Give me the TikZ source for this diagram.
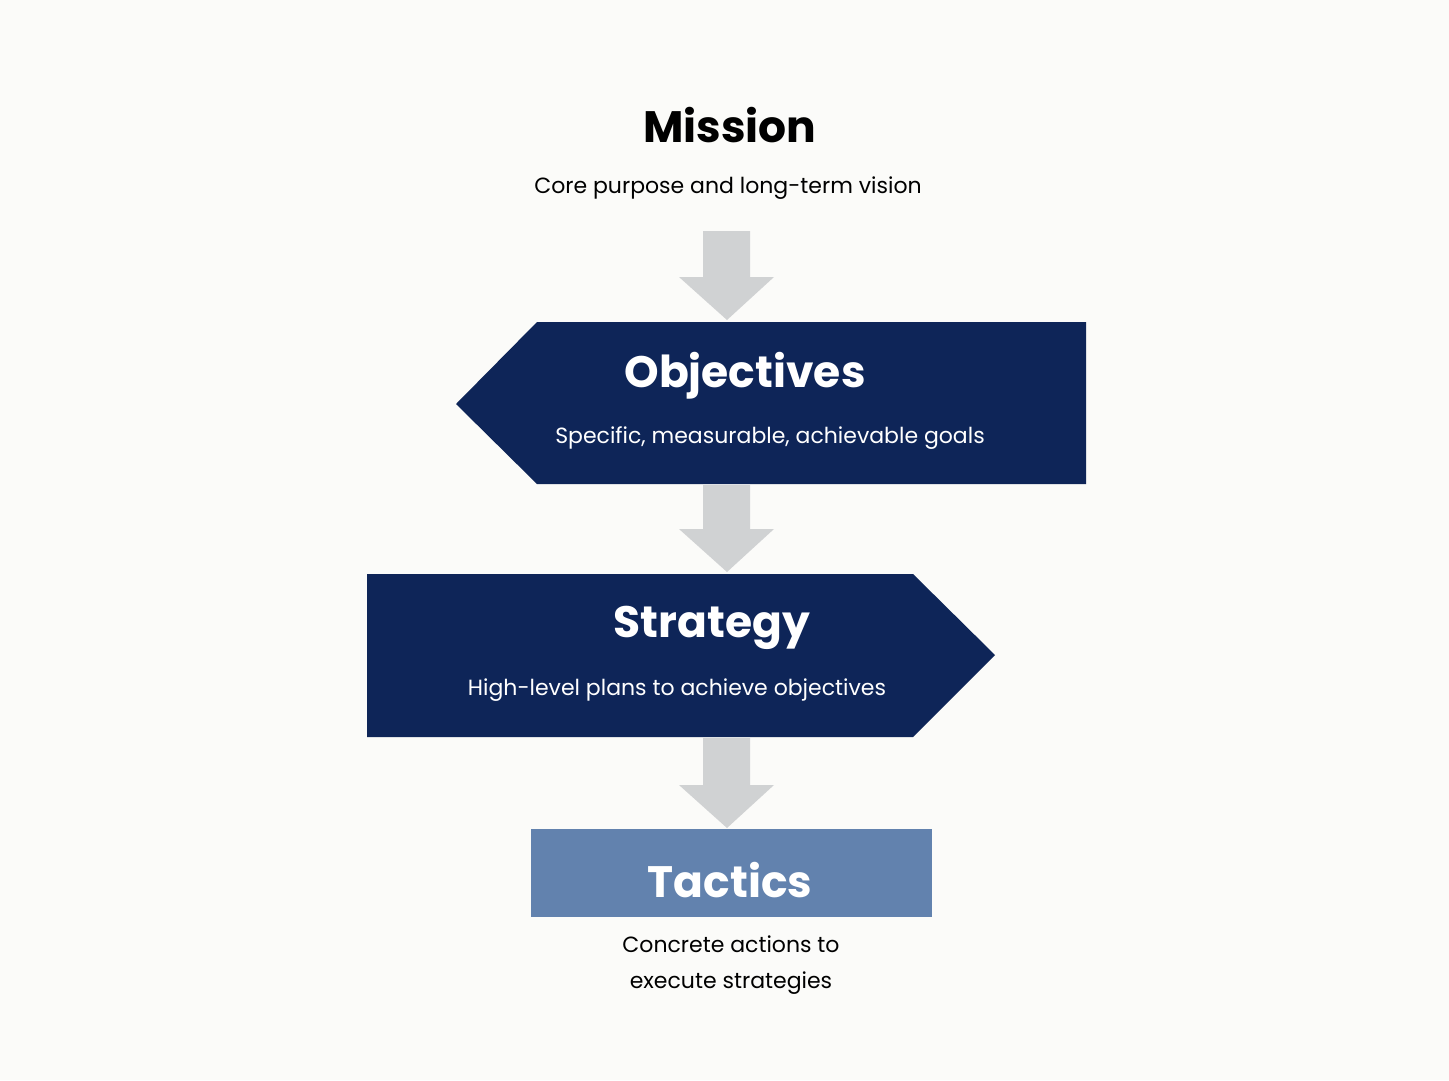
\documentclass[tikz,border=0pt]{standalone}
\usepackage{fontspec}
\setmainfont{Poppins}
\definecolor{navy}{HTML}{0E2558}
\definecolor{steel}{HTML}{6282AE}
\definecolor{arrowgray}{HTML}{D0D2D3}
\definecolor{bg}{HTML}{FBFBF9}
\tikzset{
  title/.style={font=\fontsize{44}{50}\selectfont\bfseries},
  sub/.style={font=\fontsize{22}{28}\selectfont},
  downarrow/.style={fill=arrowgray},
}
\begin{document}
\begin{tikzpicture}[x=1pt,y=-1pt]
\fill[bg] (0,0) rectangle (1449,1080);
\useasboundingbox (0,0) rectangle (1449,1080);
% arrows
\foreach \t/\b in {231/320,485/572,738/828}{
  \fill[downarrow] (703,\t) -- (750,\t) -- (750,\b-43) -- (774,\b-43) -- (727,\b) -- (679,\b-43) -- (703,\b-43) -- cycle;
}
% shapes
\fill[navy] (456,404) -- (537,322) -- (1086,322) -- (1086,484) -- (537,484) -- cycle;
\fill[navy] (367,574) -- (913,574) -- (995,655) -- (913,737) -- (367,737) -- cycle;
\fill[steel] (531,829) rectangle (932,917);
% texts
\node[title] (mission) at (730,125) {Mission};
\node[sub] (missionsub) at (728,188) {Core purpose and long-term vision};
\node[title,text=white] (obj) at (745,376) {Objectives};
\node[sub,text=white] (objsub) at (770,438) {Specific, measurable, achievable goals};
\node[title,text=white] (strat) at (712,628) {Strategy};
\node[sub,text=white] (stratsub) at (677,690) {High-level plans to achieve objectives};
\node[title,text=white] (tac) at (730,880) {Tactics};
\node[sub,align=center,font=\fontsize{22}{36}\selectfont] (tacsub) at (731,965) {Concrete actions to\\execute strategies};
\end{tikzpicture}
\end{document}
